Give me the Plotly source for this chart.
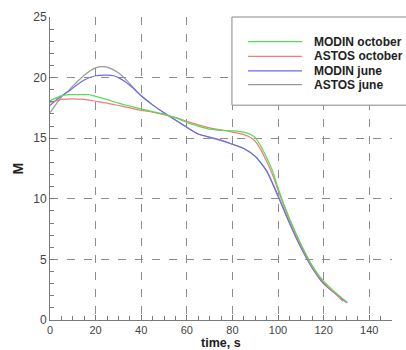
import plotly.graph_objects as go

# ---- data ----
t_modin_oct = [0, 3, 5, 8, 10, 15, 17, 20, 25, 30, 35, 40, 45, 50, 55, 60, 65, 70, 75, 80, 85, 88, 90, 92, 95, 98, 100, 105, 110, 115, 120, 125, 130]
m_modin_oct = [18.1, 18.35, 18.5, 18.6, 18.6, 18.6, 18.6, 18.45, 18.2, 17.9, 17.65, 17.4, 17.2, 17.0, 16.7, 16.3, 16.0, 15.75, 15.65, 15.6, 15.5, 15.3, 15.05, 14.5, 13.4, 12.1, 10.9, 8.4, 6.3, 4.5, 3.2, 2.3, 1.5]

t_astos_oct = [0, 3, 5, 10, 15, 20, 25, 30, 35, 40, 45, 50, 55, 60, 65, 70, 75, 80, 85, 88, 90, 92, 95, 98, 100, 105, 110, 115, 120, 125, 128.5]
m_astos_oct = [17.95, 18.1, 18.2, 18.25, 18.2, 18.05, 17.9, 17.7, 17.5, 17.3, 17.15, 16.95, 16.7, 16.4, 16.1, 15.85, 15.7, 15.5, 15.3, 15.05, 14.75, 14.2, 13.1, 11.8, 10.7, 8.3, 6.2, 4.4, 3.1, 2.2, 1.55]

t_modin_jun = [0, 3, 5, 8, 10, 15, 20, 25, 28, 30, 33, 36, 40, 45, 50, 55, 60, 65, 70, 75, 80, 85, 90, 95, 100, 105, 110, 115, 120, 125, 130.4]
m_modin_jun = [17.7, 18.2, 18.5, 18.85, 19.15, 19.8, 20.15, 20.2, 20.15, 20.0, 19.65, 19.2, 18.5, 17.75, 17.1, 16.5, 15.9, 15.35, 15.1, 14.85, 14.5, 14.15, 13.5, 12.3, 10.2, 8.0, 6.0, 4.3, 3.0, 2.2, 1.42]

t_astos_jun = [0, 3, 5, 8, 10, 15, 20, 23, 26, 30, 33, 36, 40, 45, 50, 55, 60, 65, 70, 75, 80, 85, 90, 95, 100, 105, 110, 115, 120, 125, 130]
m_astos_jun = [17.1, 17.9, 18.4, 18.9, 19.3, 20.2, 20.8, 20.9, 20.8, 20.4, 19.9, 19.3, 18.5, 17.75, 17.1, 16.5, 15.9, 15.35, 15.05, 14.8, 14.5, 14.15, 13.5, 12.3, 10.3, 8.05, 6.0, 4.3, 3.0, 2.2, 1.45]

series_names = ["MODIN october", "ASTOS october", "MODIN june", "ASTOS june"]
series_colors = ["#55dd55", "#f27b7b", "#6b6bea", "#9a9a9a"]

x_ticks = [0, 20, 40, 60, 80, 100, 120, 140]
y_ticks = [0, 5, 10, 15, 20, 25]

series = [(t_modin_oct, m_modin_oct), (t_astos_oct, m_astos_oct),
          (t_modin_jun, m_modin_jun), (t_astos_jun, m_astos_jun)]

# drawing order: gray under blue, red under green
draw_order = [3, 2, 1, 0]

fig = go.Figure()
for i in draw_order:
    tx, my = series[i]
    fig.add_trace(go.Scatter(x=tx, y=my, mode="lines", name=series_names[i],
                             line=dict(color=series_colors[i], width=1.2,
                                       shape="spline", smoothing=0.6)))

font = "Liberation Sans, Arial, sans-serif"
grid_col = "#8c8c8c"
axis_col = "#7a7a7a"

fig.update_layout(
    width=406, height=350,
    margin=dict(l=50, r=14, t=10, b=30),
    paper_bgcolor="white", plot_bgcolor="white",
    showlegend=False,
    font=dict(family=font, size=12, color="#444"),
    xaxis=dict(range=[0, 150], tickvals=x_ticks, ticks="inside", ticklen=5, tickcolor=axis_col,
               showline=True, linecolor=axis_col, linewidth=1, mirror=False,
               showgrid=True, gridcolor=grid_col, gridwidth=1, griddash="8px,9px",
               zeroline=False, ticklabelstandoff=0,
               minor=dict(dtick=5, ticks="inside", ticklen=4, tickcolor=axis_col, showgrid=False),
               tickfont=dict(family=font, size=11, color="#444")),
    yaxis=dict(range=[0, 25], tickvals=y_ticks, ticks="inside", ticklen=5, tickcolor=axis_col,
               showline=True, linecolor=axis_col, linewidth=1, mirror=False,
               showgrid=True, gridcolor=grid_col, gridwidth=1, griddash="8px,9px",
               zeroline=False,
               minor=dict(dtick=1, ticks="inside", ticklen=4, tickcolor=axis_col, showgrid=False),
               tickfont=dict(family=font, size=12, color="#444")),
)

# axis titles
fig.add_annotation(text="<b>time, s</b>", xref="paper", yref="paper", x=0.5, y=0,
                   yshift=-22.5, showarrow=False, yanchor="middle", borderpad=0,
                   font=dict(family=font, size=12.5, color="#222"))
fig.add_annotation(text="<b>M</b>", xref="paper", yref="paper", x=0, y=0.5,
                   xshift=-33, showarrow=False, textangle=-90, xanchor="center",
                   font=dict(family=font, size=14, color="#222"))

# manual legend box
fig.add_shape(type="rect", xref="paper", yref="paper", x0=0.532, x1=1.06, y0=0.709, y1=1.0,
              line=dict(color="#888", width=1), fillcolor="white", layer="above")
row_y = [0.919, 0.870, 0.822, 0.777]
for name, col, yy in zip(series_names, series_colors, row_y):
    fig.add_shape(type="line", xref="paper", yref="paper", x0=0.579, x1=0.737, y0=yy, y1=yy,
                  line=dict(color=col, width=1.2), layer="above")
    fig.add_annotation(text="<b>" + name + "</b>", xref="paper", yref="paper", x=0.766, y=yy,
                       xanchor="left", yanchor="middle", showarrow=False,
                       font=dict(family=font, size=12, color="#222"))

fig.write_html("out.html")
